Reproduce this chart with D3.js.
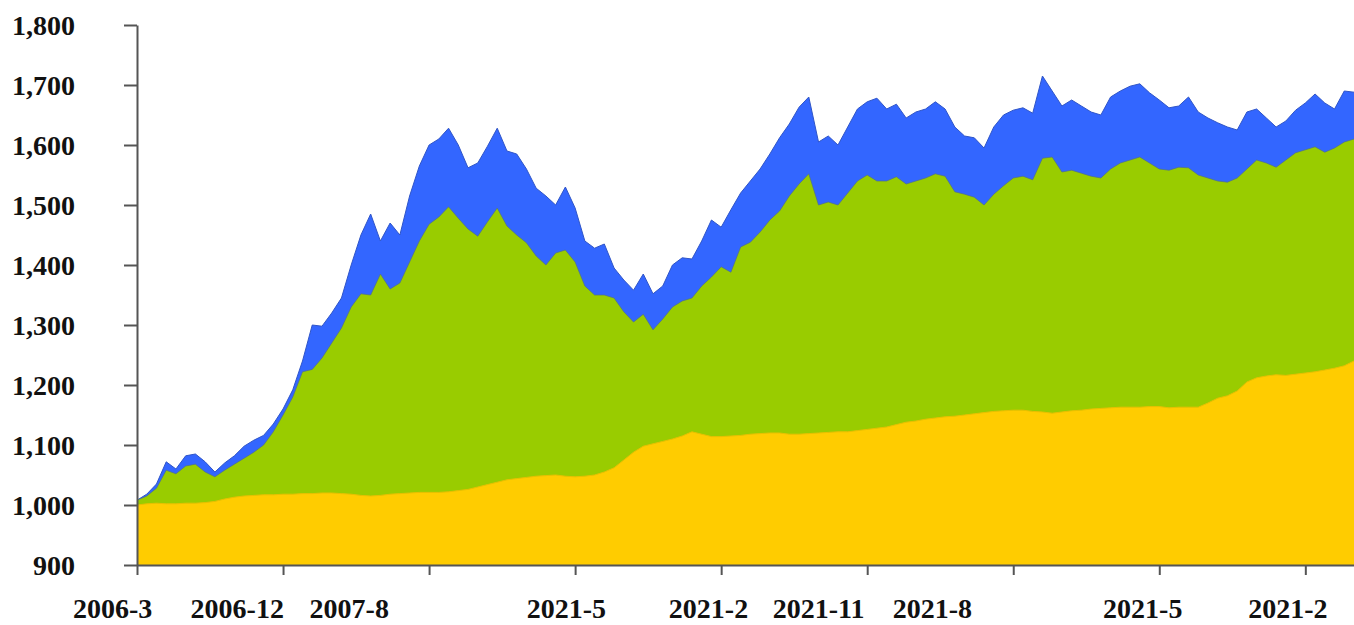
<!DOCTYPE html>
<html>
<head>
<meta charset="utf-8">
<script src="https://cdn.jsdelivr.net/npm/d3@7"></script>
<style>
  html, body { margin: 0; padding: 0; background: #ffffff; }
  svg { display: block; }
</style>
</head>
<body>
<svg id="chart" width="1354" height="625"></svg>
<script>
// ---- data (levels, one value per sample index) ----
const baseSeries = [
1000,1002,1003,1002,1002,1003,1003,1004,1006,1010,1013,1015,1016,1017,1017,1018,1018,1019,1019,1020,
1020,1019,1018,1016,1015,1016,1018,1019,1020,1021,1021,1021,1022,1024,1026,1030,1034,1038,1042,1044,
1046,1048,1049,1050,1048,1047,1048,1050,1055,1062,1075,1088,1098,1102,1106,1110,1115,1122,1118,1114,
1114,1115,1116,1118,1119,1120,1120,1118,1118,1119,1120,1121,1122,1122,1124,1126,1128,1130,1134,1138,
1140,1143,1145,1147,1148,1150,1152,1154,1156,1157,1158,1158,1156,1155,1153,1155,1157,1158,1160,1161,
1162,1163,1163,1163,1164,1164,1162,1163,1163,1163,1170,1178,1182,1190,1205,1212,1215,1217,1216,1218,
1220,1222,1225,1228,1232,1240];
const middleSeries = [
1008,1015,1028,1058,1052,1065,1068,1055,1047,1058,1068,1078,1088,1100,1122,1150,1180,1222,1226,1245,
1270,1295,1330,1352,1350,1385,1360,1370,1405,1440,1468,1480,1497,1478,1460,1448,1472,1495,1465,1450,
1437,1415,1400,1420,1425,1405,1365,1350,1350,1345,1322,1305,1318,1292,1310,1330,1340,1345,1365,1380,
1397,1388,1430,1438,1455,1475,1490,1515,1535,1552,1500,1505,1500,1520,1540,1550,1540,1540,1547,1535,
1540,1545,1552,1548,1522,1518,1513,1500,1518,1532,1545,1548,1542,1578,1580,1555,1558,1553,1548,1545,
1560,1570,1575,1580,1570,1560,1558,1563,1562,1550,1545,1540,1538,1545,1560,1575,1570,1563,1575,1587,
1592,1597,1588,1595,1605,1610];
const totalSeries = [
1008,1018,1035,1072,1060,1082,1085,1072,1055,1070,1082,1098,1108,1116,1135,1160,1192,1240,1300,1298,
1320,1345,1400,1450,1485,1440,1470,1450,1515,1565,1600,1610,1628,1600,1562,1570,1598,1628,1590,1585,
1560,1528,1515,1500,1530,1495,1440,1428,1435,1395,1375,1358,1385,1352,1365,1400,1412,1410,1440,1475,
1463,1492,1520,1540,1560,1585,1612,1635,1663,1680,1605,1615,1600,1630,1660,1672,1678,1660,1668,1645,
1655,1660,1672,1660,1630,1615,1612,1595,1630,1650,1658,1662,1653,1715,1690,1665,1675,1665,1655,1650,
1680,1690,1698,1702,1687,1675,1662,1665,1680,1655,1645,1637,1630,1625,1655,1660,1645,1630,1640,1658,
1670,1685,1670,1660,1690,1688];

const yTicks = [900, 1000, 1100, 1200, 1300, 1400, 1500, 1600, 1700, 1800];
const xTickIdx = [0, 15, 30, 45, 60, 75, 90, 105, 120];
const xLabels = ["2006-3", "2006-12", "2007-8", "2021-5", "2021-2", "2021-11", "2021-8", "2021-5", "2021-2"];
const xLabelAt = [-2.5, 10.3, 21.8, 44.1, 58.7, 70.0, 81.7, 103.3, 118.2];

// ---- drawing ----
const svg = d3.select("#chart");
const plotLeft = 137, plotRight = 1354, plotTop = 25, plotBottom = 565;
const N = totalSeries.length;

const x = d3.scaleLinear().domain([0, N - 1]).range([plotLeft, plotRight]);
const y = d3.scaleLinear().domain([900, 1800]).range([plotBottom, plotTop]).clamp(true);

const areaPath = (arr) => d3.area()
  .x((d, i) => x(i))
  .y0(y(900))
  .y1(d => y(d))(arr);
const linePath = (arr) => d3.line().x((d, i) => x(i)).y(d => y(d))(arr);

svg.append("path").attr("d", areaPath(totalSeries)).attr("fill", "#3366ff");
svg.append("path").attr("d", linePath(totalSeries)).attr("fill", "none")
   .attr("stroke", "#2f55c8").attr("stroke-width", 1);
svg.append("path").attr("d", areaPath(middleSeries)).attr("fill", "#99cc00");
svg.append("path").attr("d", linePath(middleSeries)).attr("fill", "none")
   .attr("stroke", "#4f6f8a").attr("stroke-width", 1).attr("stroke-opacity", 0.7);
svg.append("path").attr("d", areaPath(baseSeries)).attr("fill", "#ffcc00");
svg.append("path").attr("d", linePath(baseSeries)).attr("fill", "none")
   .attr("stroke", "#e8c000").attr("stroke-width", 1);

const font = "'Liberation Serif', 'Times New Roman', serif";

// y axis
const yAxis = svg.append("g").attr("transform", `translate(${plotLeft},0)`)
  .call(d3.axisLeft(y).tickValues(yTicks).tickFormat(d3.format(","))
    .tickSize(13).tickSizeOuter(0).tickPadding(49));
yAxis.select(".domain").attr("stroke", "#555").attr("stroke-width", 2);
yAxis.selectAll(".tick line").attr("stroke", "#555").attr("stroke-width", 2);
yAxis.selectAll(".tick text").attr("font-family", font).attr("font-weight", "bold")
  .attr("font-size", 28).attr("fill", "#111").attr("dy", "0.34em");

// x axis
const xAxis = svg.append("g").attr("transform", `translate(0,${plotBottom})`)
  .call(d3.axisBottom(x).tickValues(xTickIdx).tickFormat("").tickSize(10).tickSizeOuter(0));
xAxis.select(".domain").attr("stroke", "#555").attr("stroke-width", 2);
xAxis.selectAll(".tick line").attr("stroke", "#555").attr("stroke-width", 2);

svg.append("g").selectAll("text").data(xLabels).join("text")
  .attr("x", (d, i) => x(xLabelAt[i]))
  .attr("y", 618)
  .attr("text-anchor", "middle")
  .attr("font-family", font).attr("font-weight", "bold")
  .attr("font-size", 28).attr("fill", "#111")
  .text(d => d);
</script>
</body>
</html>
